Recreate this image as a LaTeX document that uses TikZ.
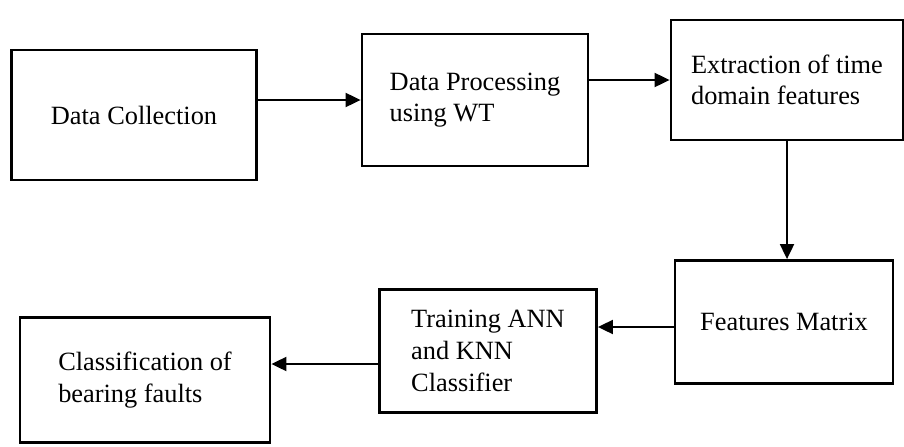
\documentclass[tikz,border=0pt]{standalone}
\usepackage{fontspec}
\setmainfont{Liberation Serif}
\usepackage{tikz}
\usetikzlibrary{arrows.meta}

\begin{document}
\begin{tikzpicture}[
    stagebox/.style={draw, line width=1.6pt, align=left, inner sep=0pt,
        font=\fontsize{15}{18}\selectfont},
    flowarrow/.style={line width=1.1pt, -{Triangle[length=3mm, width=2.8mm]}}
  ]
                    \useasboundingbox (0,0) rectangle (18.08,-8.92);
                    \node[stagebox, minimum width=4.9cm, minimum height=2.6cm] (collect) at (2.68,-2.30) {Data Collection};
                    \node[stagebox, minimum width=4.52cm, minimum height=2.64cm] (wtproc) at (9.50,-2.00) {Data Processing\\using WT};
                    \node[stagebox, minimum width=4.64cm, minimum height=2.4cm] (extract) at (15.74,-1.60) {Extraction of time\\domain features};
                    \node[stagebox, minimum width=4.36cm, minimum height=2.46cm] (fmatrix) at (15.68,-6.44) {Features Matrix};
                    \node[stagebox, minimum width=4.34cm, minimum height=2.46cm] (train) at (9.76,-7.02) {Training ANN\\and KNN\\Classifier};
                    \node[stagebox, minimum width=5.0cm, minimum height=2.5cm] (classify) at (2.90,-7.60) {Classification of\\bearing faults};
                    \draw[flowarrow] (collect.east |- wtproc.west) -- (wtproc.west);
                    \draw[flowarrow] (wtproc.east |- extract.west) -- (extract.west);
                    \draw[flowarrow] (extract.south) -- (extract.south |- fmatrix.north);
                    \draw[flowarrow] ([yshift=-0.1cm]fmatrix.west) -- ([yshift=-0.1cm]fmatrix.west -| train.east);
                    \draw[flowarrow] ([yshift=-0.26cm]train.west) -- ([yshift=-0.26cm]train.west -| classify.east);
                \end{tikzpicture}
\end{document}
